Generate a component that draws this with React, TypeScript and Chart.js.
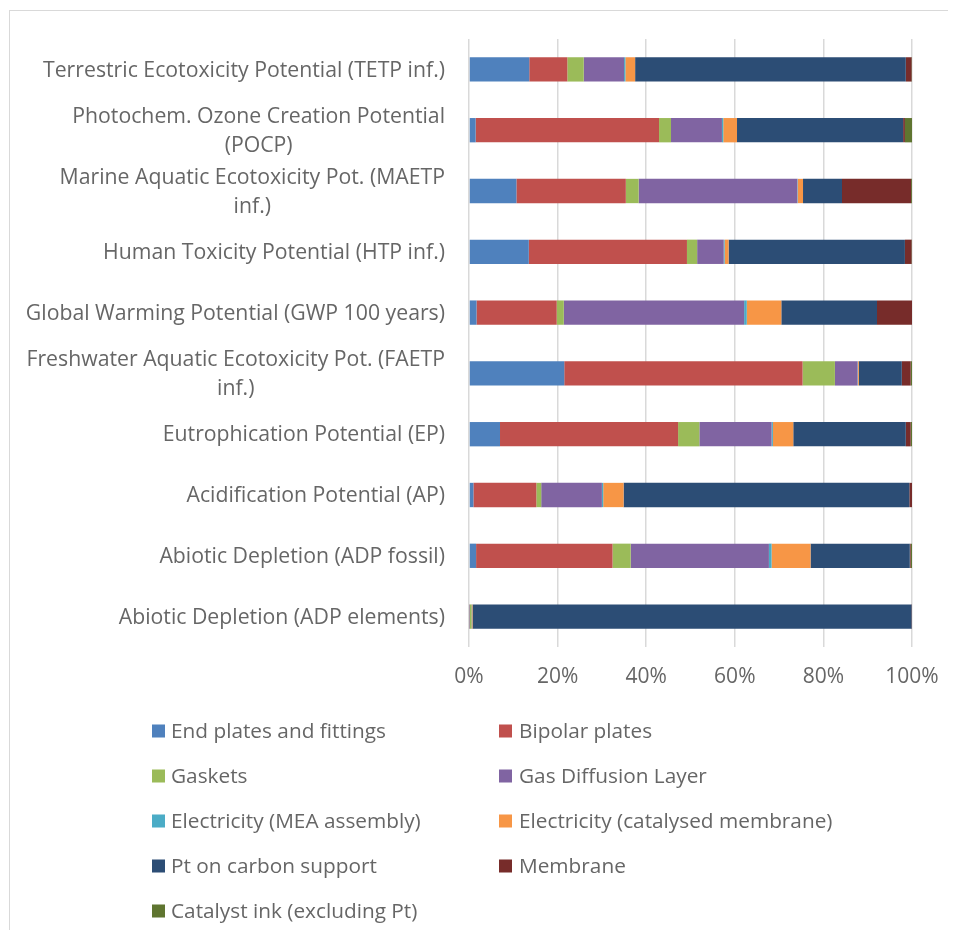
import React, { useEffect, useRef } from "react";
import { Chart, registerables } from "chart.js";

Chart.register(...registerables);

const CATEGORIES: (string | string[])[] = [
  "Terrestric Ecotoxicity Potential (TETP inf.)",
  ["Photochem. Ozone Creation Potential", "(POCP)"],
  ["Marine Aquatic Ecotoxicity Pot. (MAETP", "inf.)"],
  "Human Toxicity Potential (HTP inf.)",
  "Global Warming Potential (GWP 100 years)",
  ["Freshwater Aquatic Ecotoxicity Pot. (FAETP", "inf.)"],
  "Eutrophication Potential (EP)",
  "Acidification Potential (AP)",
  "Abiotic Depletion (ADP fossil)",
  "Abiotic Depletion (ADP elements)",
];

const X_TICKS = [0, 20, 40, 60, 80, 100];

const END_PLATES = [13.6, 1.5, 10.7, 13.5, 1.7, 21.5, 7.0, 1.0, 1.6, 0.1];
const BIPOLAR = [8.6, 41.4, 24.7, 35.7, 18.1, 53.8, 40.2, 14.2, 30.8, 0.1];
const GASKETS = [3.7, 2.7, 2.9, 2.3, 1.6, 7.3, 4.8, 1.1, 4.1, 0.4];
const GDL = [9.1, 11.5, 35.8, 6.0, 40.7, 5.1, 16.3, 13.7, 31.2, 0.1];
const ELEC_MEA = [0.3, 0.3, 0.1, 0.2, 0.6, 0.1, 0.3, 0.3, 0.6, 0.0];
const ELEC_CAT = [2.2, 3.1, 1.2, 0.9, 7.8, 0.2, 4.6, 4.6, 8.8, 0.1];
const PT_CARBON = [61.1, 37.5, 8.8, 39.8, 21.6, 9.7, 25.4, 64.5, 22.4, 99.1];
const MEMBRANE = [1.3, 0.4, 15.6, 1.5, 7.9, 2.0, 1.1, 0.6, 0.2, 0.1];
const CATALYST_INK = [0.1, 1.6, 0.2, 0.1, 0.0, 0.3, 0.3, 0.0, 0.3, 0.0];

const SERIES_NAMES = [
  "End plates and fittings",
  "Bipolar plates",
  "Gaskets",
  "Gas Diffusion Layer",
  "Electricity (MEA assembly)",
  "Electricity (catalysed membrane)",
  "Pt on carbon support",
  "Membrane",
  "Catalyst ink (excluding Pt)",
];
const SERIES_VALUES = [
  END_PLATES,
  BIPOLAR,
  GASKETS,
  GDL,
  ELEC_MEA,
  ELEC_CAT,
  PT_CARBON,
  MEMBRANE,
  CATALYST_INK,
];
const SERIES_COLORS = [
  "#4F81BD",
  "#C0504D",
  "#9BBB59",
  "#8064A2",
  "#4BACC6",
  "#F79646",
  "#2C4D75",
  "#772C2A",
  "#5F7530",
];

const FONT = "'Open Sans', sans-serif";
const TEXT_COLOR = "#666666";

const W = 940;
const H = 922;

const yLabelPlugin = {
  id: "yLabelsCustom",
  afterDraw(chart: any) {
    const ctx = chart.ctx as CanvasRenderingContext2D;
    const yScale = chart.scales.y;
    ctx.save();
    ctx.font = `22px ${FONT}`;
    ctx.fillStyle = TEXT_COLOR;
    ctx.textBaseline = "middle";
    ctx.textAlign = "center";
    const refW = ctx.measureText("Terrestric Ecotoxicity Potential (TETP inf.)").width;
    const sx = 402 / refW;
    const right = 437;
    const lineH = 29;
    (chart.data.labels as (string | string[])[]).forEach((lab, i) => {
      const lines = Array.isArray(lab) ? lab : [lab];
      const cy = yScale.getPixelForTick(i) + 1;
      const bw = Math.max(...lines.map((l) => ctx.measureText(l).width * sx));
      const cx = right - bw / 2;
      lines.forEach((l, j) => {
        const ly = cy + (j - (lines.length - 1) / 2) * lineH;
        ctx.save();
        ctx.translate(cx, ly);
        ctx.scale(sx, 1);
        ctx.fillText(l, 0, 0);
        ctx.restore();
      });
    });
    ctx.restore();
  },
};

const legendPlugin = {
  id: "legendCustom",
  afterDraw(chart: any) {
    const ctx = chart.ctx as CanvasRenderingContext2D;
    ctx.save();
    ctx.font = `20px ${FONT}`;
    ctx.textBaseline = "middle";
    ctx.textAlign = "left";
    const refW = ctx.measureText("End plates and fittings").width;
    const sx = 215 / refW;
    const squareX = [144, 491];
    const textX = [163, 511];
    const rowY0 = 723;
    const rowStep = 45;
    const box = 13;
    chart.data.datasets.forEach((ds: any, i: number) => {
      const col = i % 2;
      const row = Math.floor(i / 2);
      const cy = rowY0 + row * rowStep;
      ctx.fillStyle = ds.backgroundColor;
      ctx.fillRect(squareX[col], cy - box / 2, box, box);
      ctx.fillStyle = TEXT_COLOR;
      ctx.save();
      ctx.translate(textX[col], cy + 1);
      ctx.scale(sx, 1);
      ctx.fillText(ds.label, 0, 0);
      ctx.restore();
    });
    ctx.restore();
  },
};

export default function App() {
  const canvasRef = useRef<HTMLCanvasElement | null>(null);

  useEffect(() => {
    if (!canvasRef.current) return;
    const chart = new Chart(canvasRef.current, {
      type: "bar",
      data: {
        labels: CATEGORIES,
        datasets: SERIES_NAMES.map((name, i) => ({
          label: name,
          data: SERIES_VALUES[i],
          backgroundColor: SERIES_COLORS[i],
          borderWidth: 0,
          categoryPercentage: 0.8,
          barPercentage: 0.5,
        })),
      },
      options: {
        indexAxis: "y",
        animation: false,
        responsive: false,
        devicePixelRatio: 1,
        layout: { padding: { top: 31, right: 36, left: 0, bottom: 0 } },
        plugins: {
          legend: { display: false },
          tooltip: { enabled: false },
        },
        scales: {
          x: {
            stacked: true,
            min: 0,
            max: 100,
            afterFit: (scale: any) => {
              scale.height = H - 639;
              scale.paddingLeft = 0;
              scale.paddingRight = 0;
            },
            afterBuildTicks: (scale: any) => {
              scale.ticks = X_TICKS.map((v) => ({ value: v }));
            },
            ticks: {
              callback: (v: any) => `${v}%`,
              font: { family: FONT, size: 21 },
              color: TEXT_COLOR,
              padding: 17,
            },
            grid: {
              color: "#d9d9d9",
              lineWidth: 1.5,
              drawTicks: false,
            },
            border: { display: false },
          },
          y: {
            stacked: true,
            afterFit: (scale: any) => {
              scale.width = 461;
              scale.paddingTop = 0;
              scale.paddingBottom = 0;
            },
            ticks: { display: false },
            grid: { display: false, drawTicks: false },
            border: { display: false },
          },
        },
      },
      plugins: [yLabelPlugin, legendPlugin],
    });
    return () => chart.destroy();
  }, []);

  return (
    <div style={{ position: "relative", width: W, height: H, overflow: "hidden" }}>
      <div
        style={{
          position: "absolute",
          left: 1,
          top: 2,
          width: W,
          height: H,
          borderLeft: "1.5px solid #d9d9d9",
          borderTop: "1.5px solid #d9d9d9",
          pointerEvents: "none",
        }}
      />
      <canvas
        ref={canvasRef}
        width={W}
        height={H}
        style={{ position: "absolute", left: 0, top: 0, width: W, height: H }}
      />
    </div>
  );
}
